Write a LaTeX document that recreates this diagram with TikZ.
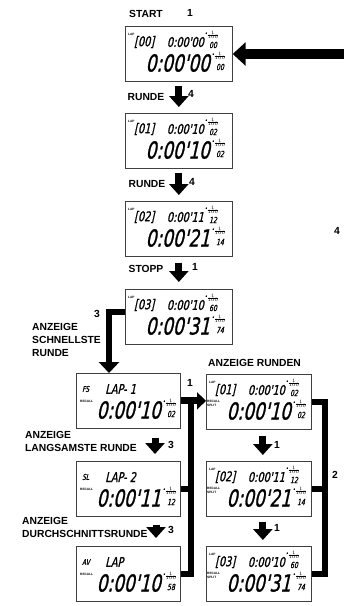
\documentclass[tikz,border=0pt]{standalone}
\usepackage{fontspec}
\setmainfont{Liberation Sans}
\newfontfamily\lcd[FakeSlant=0.22,FakeStretch=0.72,FakeBold=1]{DejaVu Sans}
\usepackage{tikz}
\usetikzlibrary{arrows.meta,calc}

\tikzset{
    panel/.style={draw=black!75, line width=0.7pt, minimum width=#1,
        minimum height=55pt, inner sep=0pt, anchor=north west},
    lbl/.style={font=\bfseries\fontsize{10.3}{13}\selectfont, inner sep=0pt},
    tinylbl/.style={font=\bfseries\fontsize{3.2}{3.4}\selectfont, inner sep=0pt},
    lcdtag/.style={font=\lcd\fontsize{8}{8}\selectfont, inner sep=0pt},
    lcdsmall/.style={font=\lcd\fontsize{13.5}{13.5}\selectfont, inner sep=0pt},
    lcdbig/.style={font=\lcd\fontsize{23.5}{23.5}\selectfont, inner sep=0pt},
    lcdhund/.style={font=\lcd\fontsize{8.5}{8.5}\selectfont, inner sep=0pt},
    fracmark/.style={font=\lcd\fontsize{5}{5}\selectfont, inner sep=0pt},
    blk/.style={line width=7pt, -{Triangle[width=19pt,length=11pt]}},
    inarrow/.style={line width=10pt, -{Triangle[width=23pt,length=13pt]}},
    elb/.style={line width=6.5pt, -{Triangle[width=20pt,length=11pt]}},
    blkr/.style={line width=7pt, -{Triangle[width=17pt,length=9pt]}},
    bar/.style={line width=5.5pt},
}

% pieces of one display, in coordinates of its top left corner
\newcommand{\lapno}[2]{%
    \node[tinylbl, anchor=south west] (#1-lt) at (3,10) {LAP};
    \node[lcdsmall, anchor=west] (#1-ln) at (9,16) {#2};}
\newcommand{\lapkind}[3]{%
    \node[lcdtag, anchor=west] (#1-lt) at (6,16) {#2};
    \node[lcdsmall, anchor=west] (#1-ln) at (29,16) {#3};}
\newcommand{\toprow}[3]{%
    \node[lcdsmall, anchor=east] (#1-t1) at (79,16) {#2};
    \node[fracmark] (#1-f1) at (87,9) {"$\scriptscriptstyle\frac{1}{100}$};
    \node[lcdhund] (#1-h1) at (88,19) {#3};}
\newcommand{\bigrow}[3]{%
    \node[lcdbig, anchor=east] (#1-t2) at (85,37) {#2};
    \node[fracmark] (#1-f2) at (94,30) {"$\scriptscriptstyle\frac{1}{100}$};
    \node[lcdhund] (#1-h2) at (95,41) {#3};}
\newcommand{\recall}[1]{%
    \node[tinylbl, anchor=west] (#1-rc) at (4,28) {RECALL};}
\newcommand{\recallsplit}[1]{%
    \node[tinylbl, anchor=west] (#1-rc) at (1,27) {RECALL};
    \node[tinylbl, anchor=west] (#1-sp) at (1,31) {SPLIT};}

\begin{document}
\begin{tikzpicture}[x=1pt,y=-1pt]
    \useasboundingbox (0,0) rectangle (344,606);
    % main column
    \node[panel=107pt] (b1) at (125,26) {};
    \node[panel=107pt] (b2) at (125,113) {};
    \node[panel=107pt] (b3) at (125,201) {};
    \node[panel=107pt] (b4) at (125,289) {};
    % left column
    \node[panel=104pt] (fs) at (76,373) {};
    \node[panel=104pt] (sl) at (76,461) {};
    \node[panel=104pt] (av) at (76,546) {};
    % right column
    \node[panel=105pt] (r1) at (206,374) {};
    \node[panel=105pt] (r2) at (206,461) {};
    \node[panel=105pt] (r3) at (206,546) {};

    \begin{scope}[shift={(b1.north west)}]
        \lapno{b1}{[00]}\toprow{b1}{0:00'00}{00}\bigrow{b1}{0:00'00}{00}
    \end{scope}
    \begin{scope}[shift={(b2.north west)}]
        \lapno{b2}{[01]}\toprow{b2}{0:00'10}{02}\bigrow{b2}{0:00'10}{02}
    \end{scope}
    \begin{scope}[shift={(b3.north west)}]
        \lapno{b3}{[02]}\toprow{b3}{0:00'11}{12}\bigrow{b3}{0:00'21}{14}
    \end{scope}
    \begin{scope}[shift={(b4.north west)}]
        \lapno{b4}{[03]}\toprow{b4}{0:00'10}{60}\bigrow{b4}{0:00'31}{74}
    \end{scope}
    \begin{scope}[shift={(fs.north west)}]
        \lapkind{fs}{FS}{LAP- 1}\recall{fs}\bigrow{fs}{0:00'10}{02}
    \end{scope}
    \begin{scope}[shift={(sl.north west)}]
        \lapkind{sl}{SL}{LAP- 2}\recall{sl}\bigrow{sl}{0:00'11}{12}
    \end{scope}
    \begin{scope}[shift={(av.north west)}]
        \lapkind{av}{AV}{LAP}\recall{av}\bigrow{av}{0:00'10}{58}
    \end{scope}
    \begin{scope}[shift={(r1.north west)}]
        \lapno{r1}{[01]}\toprow{r1}{0:00'10}{02}\recallsplit{r1}\bigrow{r1}{0:00'10}{02}
    \end{scope}
    \begin{scope}[shift={(r2.north west)}]
        \lapno{r2}{[02]}\toprow{r2}{0:00'11}{12}\recallsplit{r2}\bigrow{r2}{0:00'21}{14}
    \end{scope}
    \begin{scope}[shift={(r3.north west)}]
        \lapno{r3}{[03]}\toprow{r3}{0:00'10}{60}\recallsplit{r3}\bigrow{r3}{0:00'31}{74}
    \end{scope}

    % labels
    \node[lbl] (start) at (146,14) {START};
    \node[lbl] (k1) at (190,13) {1};
    \node[lbl] (rd1) at (146,97) {RUNDE};
    \node[lbl] (k2) at (191,94) {4};
    \node[lbl] (rd2) at (147,184) {RUNDE};
    \node[lbl] (k3) at (192,182) {4};
    \node[lbl] (k4) at (337,231) {4};
    \node[lbl] (stp) at (146,269) {STOPP};
    \node[lbl] (k5) at (195,267) {1};
    \node[lbl] (k6) at (97,314) {3};
    \node[lbl, align=left, anchor=north west] (fast) at (32,323) {ANZEIGE\\SCHNELLSTE\\RUNDE};
    \node[lbl] (k7) at (190,383) {1};
    \node[lbl, align=left, anchor=north west] (slow) at (25,431) {ANZEIGE\\LANGSAMSTE RUNDE};
    \node[lbl] (k8) at (171,445) {3};
    \node[lbl, align=left, anchor=north west] (mean) at (22,517) {ANZEIGE\\DURCHSCHNITTSRUNDE};
    \node[lbl] (k9) at (171,530) {3};
    \node[lbl, anchor=west] (laps) at (208,363) {ANZEIGE RUNDEN};
    \node[lbl] (k10) at (277,445) {1};
    \node[lbl] (k11) at (277,528) {1};
    \node[lbl] (k12) at (335,475) {2};

    % arrows
    \coordinate (feed) at (344,54);
    \draw[inarrow] (feed) -- (b1.east |- feed);
    \draw[blk] ($(b1.south)+(0,4)$) -- ($(b2.north)+(0,-6)$);
    \draw[blk] ($(b2.south)+(0,4)$) -- ($(b3.north)+(0,-6)$);
    \draw[blk] ($(b3.south)+(0,6)$) -- ($(b4.north)+(0,-7)$);
    \draw[elb] ($(b4.north west)+(0,23)$) -| ($(fs.north west)+(33,0)$);
    \draw[blk] ($(fs.south west)+(79,9)$) -- ($(sl.north west)+(79,-7)$);
    \draw[blk] ($(sl.south west)+(80,8)$) -- ($(av.north west)+(80,-8)$);
    \draw[blk] ($(r1.south)+(4,6)$) -- ($(r2.north)+(4,-6)$);
    \draw[blk] ($(r2.south)+(4,5)$) -- ($(r3.north)+(4,-6)$);

    % brackets
    \coordinate (lbar) at (191,0);
    \coordinate (rbar) at (325,0);
    \draw[blkr] (fs.east) -- (fs.east -| r1.west);
    \draw[bar] (fs.east -| lbar) |- (av.east);
    \draw[bar] (sl.east) -- (sl.east -| lbar);
    \draw[bar] (r1.east) -| (r3.east -| rbar) -- (r3.east);
    \draw[bar] (r2.east) -- (r2.east -| rbar);
\end{tikzpicture}
\end{document}
